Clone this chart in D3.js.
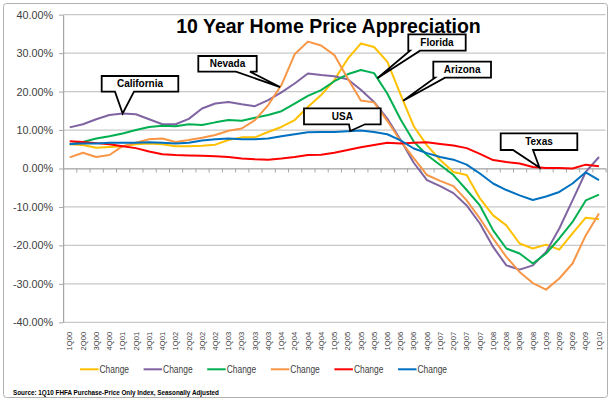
<!DOCTYPE html>
<html>
<head>
<meta charset="utf-8">
<script src="https://cdn.jsdelivr.net/npm/d3@7/dist/d3.min.js"></script>
<style>
  html, body { margin: 0; padding: 0; background: #fff; }
  svg { display: block; }
</style>
</head>
<body>
<svg id="chart" width="612" height="400"></svg>
<script>
// ---------------- DATA ----------------
const categories = ["1Q00","2Q00","3Q00","4Q00","1Q01","2Q01","3Q01","4Q01","1Q02","2Q02","3Q02","4Q02",
  "1Q03","2Q03","3Q03","4Q03","1Q04","2Q04","3Q04","4Q04","1Q05","2Q05","3Q05","4Q05",
  "1Q06","2Q06","3Q06","4Q06","1Q07","2Q07","3Q07","4Q07","1Q08","2Q08","3Q08","4Q08",
  "1Q09","2Q09","3Q09","4Q09","1Q10"];

const arizona = [6.3,6.1,5.4,5.6,5.8,6.3,6.5,6.3,5.8,5.8,5.9,6.2,7.4,8.1,8.1,9.5,10.8,12.6,16.0,19.1,
  23.0,28.5,32.5,31.6,27.8,19.3,11.0,6.0,2.2,-0.9,-1.7,-7.8,-12.2,-14.8,-19.5,-20.8,-19.8,-21.1,-16.9,-12.8,-13.2];
const california = [10.7,11.5,12.8,13.9,14.3,14.1,12.8,11.5,11.5,12.9,15.6,16.9,17.3,16.7,16.2,17.8,19.8,22.1,24.7,24.3,
  24.0,23.2,20.5,17.3,13.0,7.5,1.5,-3.0,-4.6,-6.4,-9.6,-14.3,-20.4,-25.2,-26.3,-25.2,-21.7,-15.6,-8.3,-0.9,3.0];
const florida = [6.3,6.9,7.8,8.4,9.1,10.0,10.8,11.1,11.0,11.5,11.3,12.0,12.6,12.4,13.2,13.9,14.9,16.9,18.9,20.4,
  22.7,24.5,25.6,24.8,19.5,12.8,7.0,3.5,0.9,-1.7,-5.6,-9.6,-16.1,-20.8,-22.1,-24.7,-22.1,-18.2,-13.9,-8.3,-6.8];
const nevada = [2.9,4.1,3.0,3.5,5.8,6.7,7.6,7.8,6.9,7.4,8.0,8.7,9.8,10.4,12.6,16.5,21.7,29.7,33.0,32.0,
  29.5,23.5,17.7,17.2,12.4,7.2,2.7,-1.7,-3.2,-4.6,-8.3,-13.0,-18.2,-23.0,-26.9,-29.8,-31.5,-28.6,-24.7,-17.4,-11.7];
const texas = [7.1,6.9,6.6,6.3,5.8,5.3,4.4,3.7,3.5,3.4,3.3,3.2,3.0,2.6,2.4,2.3,2.6,3.0,3.5,3.6,
  4.1,4.8,5.5,6.1,6.7,6.5,6.7,6.8,6.4,6.0,5.3,3.8,2.2,1.7,1.3,0.4,0.1,0.1,0.0,1.0,0.6];
const usa = [6.4,6.5,6.5,6.7,6.7,6.7,6.8,6.7,6.5,6.7,7.3,7.6,7.8,7.6,7.6,7.8,8.4,8.9,9.4,9.5,
  9.5,9.7,9.9,9.5,8.9,7.3,5.2,4.0,3.0,2.3,1.0,-1.3,-3.9,-5.6,-7.0,-8.2,-7.3,-6.1,-3.9,-1.0,-3.0];

const seriesValues = [arizona, california, florida, nevada, texas, usa];
const legendLabels = ["Change","Change","Change","Change","Change","Change"];
const seriesColors = ["#FFC000","#8064A2","#00B050","#F79646","#FF0000","#0070C0"];

const yTicks = [-40,-30,-20,-10,0,10,20,30,40];

const titleText = "10 Year Home Price Appreciation";
const sourceText = "Source: 1Q10 FHFA Purchase-Price Only Index, Seasonally Adjusted";

// callout annotations: label, series index, fractional category index of the tip
const calloutLabels = ["California","Nevada","Florida","Arizona","USA","Texas"];
const calloutSeries = [1,3,2,0,5,4];
const calloutAt = [4,15.9,23.25,25.2,21.2,35.5];

// ---------------- LAYOUT ----------------
const calloutBoxes = [
  {x:101.7, y:76,   w:76.6, h:15.7, b1:115, b2:134},
  {x:198.3, y:56,   w:58.4, h:15.7, b1:236, b2:250},
  {x:408.3, y:34.3, w:57.4, h:16.4, b1:410, b2:420},
  {x:433.3, y:61.7, w:57.7, h:16,   b1:435, b2:445},
  {x:304,   y:108.3,w:76.7, h:16,   b1:349, b2:365},
  {x:500.7, y:133.3,w:76.6, h:16.7, b1:513, b2:533}
];

const plot = {left: 63.1, right: 605.6, top: 14.7, bottom: 322.3};

const svg = d3.select("#chart");

// outer border
svg.append("rect").attr("x",3.5).attr("y",3.5).attr("width",604).attr("height",394)
  .attr("rx",3).attr("fill","#fff").attr("stroke","#b0b0b0").attr("stroke-width",1);

const x = d3.scaleBand().domain(categories).range([plot.left, plot.right]).padding(0);
const bw = x.bandwidth();
const xc = i => x(categories[0]) + bw/2 + i*bw;
const xEdge = d3.scaleLinear().domain([0, categories.length]).range([plot.left, plot.right]);
const y = d3.scaleLinear().domain([-40,40]).range([plot.bottom, plot.top]);

// gridlines
svg.append("g").selectAll("line").data(yTicks).join("line")
  .attr("x1", plot.left).attr("x2", plot.right)
  .attr("y1", d => y(d)).attr("y2", d => y(d))
  .attr("stroke","#c8c8c8").attr("stroke-width",1.2);

// y axis
const yAxis = svg.append("g").attr("transform",`translate(${plot.left},0)`)
  .call(d3.axisLeft(y).tickValues(yTicks).tickFormat(d => d.toFixed(2) + "%").tickSize(4).tickSizeOuter(0).tickPadding(6));
yAxis.select(".domain").attr("stroke","#a6a6a6").attr("stroke-width",1.2);
yAxis.selectAll(".tick line").attr("stroke","#a6a6a6");
yAxis.selectAll("text").attr("font-family","'Liberation Sans', Arial, sans-serif")
  .attr("font-size","10.8px").attr("fill","#404040");

// x axis line at 0 with boundary tick marks
const xTickAxis = svg.append("g").attr("transform",`translate(0,${y(0)})`)
  .call(d3.axisBottom(xEdge).tickValues(d3.range(0, categories.length + 1)).tickFormat("").tickSize(4).tickSizeOuter(0));
xTickAxis.select(".domain").attr("stroke","#a6a6a6").attr("stroke-width",1.2);
xTickAxis.selectAll(".tick line").attr("stroke","#a6a6a6");

// x labels at bottom
const xLab = svg.append("g").attr("transform",`translate(0,${plot.bottom})`)
  .call(d3.axisBottom(x).tickSize(0).tickPadding(0));
xLab.select(".domain").remove();
xLab.selectAll("text")
  .attr("font-family","'Liberation Sans', Arial, sans-serif")
  .attr("font-size","7.6px").attr("fill","#404040")
  .attr("text-anchor","end")
  .attr("transform","translate(2.7,9.5) rotate(-90)")
  .attr("x",0).attr("y",0).attr("dy",0);

// lines
const line = d3.line().x((d,i) => xc(i)).y(d => y(d));
svg.append("g").selectAll("path").data(seriesValues).join("path")
  .attr("d", d => line(d))
  .attr("fill","none")
  .attr("stroke",(d,i) => seriesColors[i])
  .attr("stroke-width",2)
  .attr("stroke-linejoin","round");

// title
svg.append("text").attr("x",328.5).attr("y",32.5).attr("text-anchor","middle")
  .attr("font-family","'Liberation Sans', Arial, sans-serif").attr("font-weight","bold")
  .attr("font-size","19.5px").attr("fill","#000").text(titleText);

// callouts
function valueAt(vals, at) {
  const i0 = Math.floor(at), i1 = Math.min(vals.length - 1, Math.ceil(at));
  const f = at - i0;
  return vals[i0] + f * (vals[i1] - vals[i0]);
}
const cg = svg.append("g");
calloutLabels.forEach((lab, k) => {
  const b = calloutBoxes[k];
  const vals = seriesValues[calloutSeries[k]];
  const tx = xc(calloutAt[k]);
  const ty = y(valueAt(vals, calloutAt[k]));
  const p = d3.path();
  p.moveTo(b.x, b.y);
  p.lineTo(b.x + b.w, b.y);
  p.lineTo(b.x + b.w, b.y + b.h);
  p.lineTo(b.b2, b.y + b.h);
  p.lineTo(tx, ty);
  p.lineTo(b.b1, b.y + b.h);
  p.lineTo(b.x, b.y + b.h);
  p.closePath();
  cg.append("path").attr("d", p.toString()).attr("fill","#fff")
    .attr("stroke","#000").attr("stroke-width",1.8).attr("stroke-linejoin","miter");
  cg.append("text").attr("x", b.x + b.w/2).attr("y", b.y + b.h/2 + 3.6)
    .attr("text-anchor","middle")
    .attr("font-family","'Liberation Sans', Arial, sans-serif").attr("font-weight","bold")
    .attr("font-size","10px").attr("fill","#000").text(lab);
});

// legend
const lg = svg.append("g").attr("transform","translate(80,369.3)");
legendLabels.forEach((lab, i) => {
  const g = lg.append("g").attr("transform",`translate(${i*63.6},0)`);
  g.append("line").attr("x1",0).attr("x2",18.5).attr("y1",0).attr("y2",0)
    .attr("stroke", seriesColors[i]).attr("stroke-width",2);
  g.append("text").attr("x",19.5).attr("y",3.8)
    .attr("font-family","'Liberation Sans', Arial, sans-serif")
    .attr("font-size","10.5px").attr("fill","#404040")
    .attr("textLength",29.5).attr("lengthAdjust","spacingAndGlyphs")
    .text(lab);
});

// source
svg.append("text").attr("x",13).attr("y",395)
  .attr("font-family","'Liberation Sans', Arial, sans-serif")
  .attr("font-weight","bold").attr("font-size","7.6px").attr("fill","#000")
  .attr("textLength",206).attr("lengthAdjust","spacingAndGlyphs")
  .text(sourceText);
</script>
</body>
</html>
